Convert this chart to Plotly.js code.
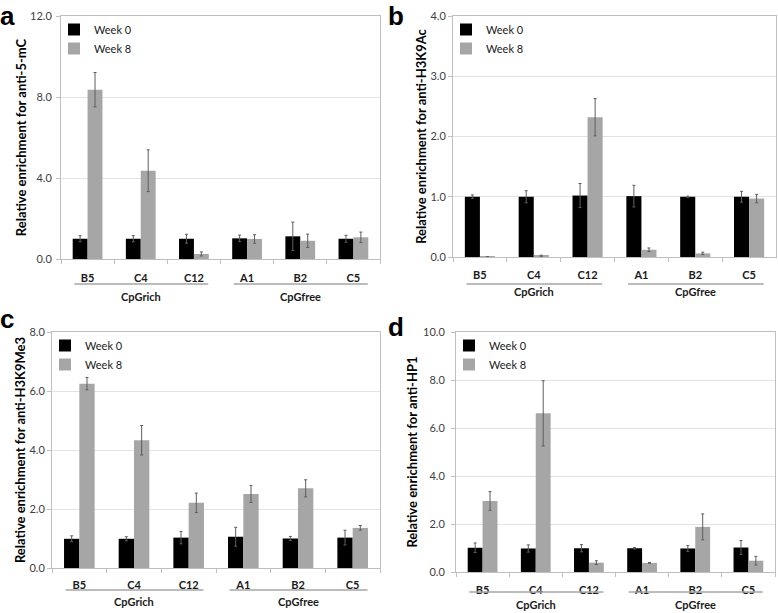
<!DOCTYPE html>
<html>
<head>
<meta charset="utf-8">
<script src="https://cdn.plot.ly/plotly-3.0.1.min.js"></script>
<style>html,body{margin:0;padding:0;background:#fff;}#chart{width:778px;height:613px;}</style>
</head>
<body>
<div id="chart"></div>
<script>
// ---- data ----
const categories = ['B5', 'C4', 'C12', 'A1', 'B2', 'C5'];
const groupNames = ['CpGrich', 'CpGfree'];
const seriesNames = ['Week 0', 'Week 8'];

const a_week0 = [1.00, 1.00, 1.00, 1.02, 1.12, 1.00];
const a_week0_err = [0.15, 0.15, 0.22, 0.16, 0.70, 0.17];
const a_week8 = [8.36, 4.36, 0.25, 0.99, 0.90, 1.07];
const a_week8_err = [0.85, 1.03, 0.10, 0.21, 0.33, 0.26];

const b_week0 = [1.00, 1.00, 1.02, 1.01, 1.00, 1.00];
const b_week0_err = [0.03, 0.10, 0.20, 0.18, 0.01, 0.09];
const b_week8 = [0.005, 0.02, 2.32, 0.12, 0.06, 0.97];
const b_week8_err = [0.002, 0.01, 0.31, 0.03, 0.02, 0.07];

const c_week0 = [0.99, 0.99, 1.03, 1.06, 1.00, 1.03];
const c_week0_err = [0.10, 0.07, 0.21, 0.32, 0.07, 0.25];
const c_week8 = [6.25, 4.33, 2.21, 2.51, 2.70, 1.36];
const c_week8_err = [0.21, 0.50, 0.33, 0.29, 0.29, 0.08];

const d_week0 = [1.01, 0.98, 0.99, 0.99, 0.98, 1.02];
const d_week0_err = [0.20, 0.15, 0.15, 0.03, 0.12, 0.29];
const d_week8 = [2.96, 6.61, 0.39, 0.38, 1.88, 0.47];
const d_week8_err = [0.39, 1.36, 0.08, 0.02, 0.54, 0.18];

const yTitles = ['Relative enrichment for anti-5-mC', 'Relative enrichment for anti-H3K9Ac',
                 'Relative enrichment for anti-H3K9Me3', 'Relative enrichment for anti-HP1'];
const panelLetters = ['a', 'b', 'c', 'd'];
const yMax = [12, 4, 8, 10];
const yStep = [4, 1, 2, 2];

// ---- layout geometry (pixels) ----
const W = 778, H = 613;
const panels = [
  {l: 61, r: 380, t: 16, b: 259, letter: [8, 0], lineOff: 25, grpOff: 37, ytls: 2, standoff: 0, xtls: 9},
  {l: 453, r: 776, t: 16, b: 257, letter: [396, 0], lineOff: 27, grpOff: 34, ytls: 0, standoff: 0, xtls: 8},
  {l: 52, r: 380, t: 332, b: 568, letter: [7, 303], lineOff: 22, grpOff: 33, ytls: 0, standoff: 0, xtls: 7},
  {l: 456, r: 775, t: 332, b: 572, letter: [396, 311], lineOff: 20, grpOff: 32, ytls: 4, standoff: 2, xtls: 8}
];
const dataSets = [
  [a_week0, a_week0_err, a_week8, a_week8_err],
  [b_week0, b_week0_err, b_week8, b_week8_err],
  [c_week0, c_week0_err, c_week8, c_week8_err],
  [d_week0, d_week0_err, d_week8, d_week8_err]
];

const FONT = 'Lato, "Liberation Sans", Arial, sans-serif';
const colors = ['#000000', '#a6a6a6'];
const traces = [];
const layout = {
  width: W, height: H,
  margin: {l: 0, r: 0, t: 0, b: 0},
  paper_bgcolor: '#fff', plot_bgcolor: '#fff',
  barmode: 'group', bargap: 0.44, bargroupgap: 0,
  font: {family: FONT, size: 11, color: '#404040'},
  annotations: [], shapes: []
};

panels.forEach((p, i) => {
  const n = i === 0 ? '' : String(i + 1);
  const xa = 'x' + n, ya = 'y' + n;
  const legName = 'legend' + n;
  const ds = dataSets[i];
  for (let s = 0; s < 2; s++) {
    traces.push({
      type: 'bar', x: categories, y: ds[s * 2], name: seriesNames[s],
      xaxis: xa, yaxis: ya, legend: legName,
      marker: {color: colors[s], line: {width: 0}},
      error_y: {type: 'data', array: ds[s * 2 + 1], visible: true, color: '#5e5e5e', thickness: 1, width: 1.5},
      hoverinfo: 'x+y+name'
    });
  }
  layout['xaxis' + n] = {
    domain: [p.l / W, p.r / W], anchor: ya,
    type: 'category', showgrid: false, zeroline: false,
    showline: true, linecolor: '#bfbfbf', linewidth: 1, mirror: true,
    ticks: 'outside', tickson: 'boundaries', ticklen: 4, tickcolor: '#bfbfbf',
    tickfont: {family: FONT, size: 11, color: '#1a1a1a', weight: 'bold'},
    ticklabelstandoff: p.xtls, fixedrange: true
  };
  layout['yaxis' + n] = {
    domain: [1 - p.b / H, 1 - p.t / H], anchor: xa,
    range: [0, yMax[i]], dtick: yStep[i], tick0: 0, tickformat: '.1f',
    showgrid: true, gridcolor: '#e3e3e3', gridwidth: 1, zeroline: false,
    showline: true, linecolor: '#bfbfbf', linewidth: 1, mirror: true,
    ticks: 'outside', ticklen: 4, tickcolor: '#bfbfbf',
    tickfont: {family: FONT, size: 11, color: '#404040'},
    ticklabelstandoff: p.ytls,
    title: {text: yTitles[i], font: {family: FONT, size: 13, color: '#000', weight: 'bold'}, standoff: p.standoff},
    fixedrange: true
  };
  layout[legName] = {
    x: (p.l - 7) / W, y: 1 - (p.t - 1) / H, xanchor: 'left', yanchor: 'top',
    bgcolor: 'rgba(0,0,0,0)', borderwidth: 0, itemwidth: 30, tracegroupgap: 0,
    font: {family: FONT, size: 11, color: '#1a1a1a'}
  };
  // panel letter (box top-aligned so it stays inside the picture)
  layout.annotations.push({
    xref: 'paper', yref: 'paper', x: p.letter[0] / W, y: 1 - p.letter[1] / H,
    text: '<b>' + panelLetters[i] + '</b>', showarrow: false, borderpad: 0,
    font: {family: '"Liberation Sans", Arial, sans-serif', size: 26, color: '#000'},
    xanchor: 'center', yanchor: 'top'
  });
  // group lines and labels
  const axH = p.b - p.t;
  const groups = [[0, 2], [3, 5]];
  groups.forEach((g, gi) => {
    layout.shapes.push({
      type: 'line', xref: xa, yref: ya + ' domain',
      x0: g[0] - 0.25, x1: g[1] + 0.27,
      y0: -p.lineOff / axH, y1: -p.lineOff / axH,
      line: {color: '#a6a6a6', width: 1.5}
    });
    layout.annotations.push({
      xref: xa, yref: ya + ' domain', x: (g[0] + g[1]) / 2, y: -p.grpOff / axH,
      text: '<b>' + groupNames[gi] + '</b>', showarrow: false,
      font: {family: FONT, size: 11, color: '#1a1a1a'},
      xanchor: 'center', yanchor: 'middle'
    });
  });
});

Plotly.newPlot('chart', traces, layout, {displayModeBar: false});
</script>
</body>
</html>
